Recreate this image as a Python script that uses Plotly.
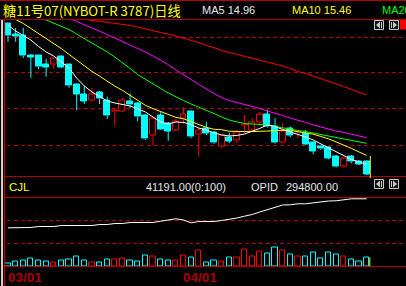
import plotly.graph_objects as go

W, H = 406, 286

# ---------------- data ----------------
title_text = "糖11号07(NYBOT-R 3787)日线"
opens = [22.99, 22.38, 22.32, 21.18, 21.15, 20.65, 20.65, 21.09, 20.62, 19.52,
         18.96, 18.62, 19.06, 18.62, 17.94, 17.99, 18.56, 18.43, 17.72, 16.59,
         17.72, 17.29, 16.91, 17.54, 17.95, 16.66, 17.01, 16.74, 15.96, 16.47,
         16.30, 17.14, 16.91, 17.33, 17.77, 17.10, 16.19, 17.01, 16.74, 16.72,
         16.19, 15.96, 15.90, 15.39, 14.82, 15.39, 15.14, 15.10]
highs = [22.99, 22.72, 22.74, 21.24, 21.18, 20.96, 21.09, 21.16, 20.67, 19.57,
         19.42, 19.32, 19.13, 18.81, 18.11, 18.73, 19.00, 18.51, 17.82, 17.67,
         17.92, 17.37, 17.54, 18.20, 18.02, 17.06, 17.38, 16.85, 16.62, 16.76,
         16.91, 17.77, 17.58, 17.95, 18.05, 17.58, 17.29, 17.10, 16.91, 16.91,
         16.25, 16.03, 15.97, 15.49, 15.31, 15.49, 15.20, 15.17]
lows = [21.94, 21.94, 21.01, 19.89, 20.37, 19.95, 20.39, 20.44, 19.32, 18.05,
        18.39, 18.56, 18.39, 17.54, 17.16, 17.95, 18.16, 17.42, 16.34, 16.02,
        16.91, 16.30, 16.85, 17.25, 16.44, 15.39, 16.62, 16.11, 15.91, 16.15,
        16.15, 16.72, 16.85, 17.20, 17.05, 16.14, 16.14, 16.51, 16.44, 16.05,
        15.53, 15.77, 15.23, 14.77, 14.77, 15.01, 14.92, 14.35]
closes = [22.29, 22.23, 21.15, 21.05, 20.52, 20.48, 20.96, 20.48, 19.42, 18.96,
          18.56, 18.96, 18.68, 17.72, 18.05, 18.62, 18.34, 17.67, 16.40, 17.54,
          16.95, 16.85, 17.42, 17.81, 16.53, 16.91, 16.72, 16.17, 16.57, 16.28,
          16.78, 17.20, 17.33, 17.77, 17.10, 16.19, 16.85, 16.59, 16.85, 16.09,
          15.71, 15.83, 15.30, 14.82, 15.26, 15.10, 14.97, 14.40]
ma5 = [22.90, 22.55, 22.30, 22.04, 21.67, 21.36, 21.13, 20.79, 20.44, 19.87,
       19.42, 19.08, 18.82, 18.56, 18.45, 18.36, 18.28, 18.11, 17.94, 17.65,
       17.37, 17.25, 17.37, 17.34, 17.22, 17.02, 16.91, 16.74, 16.63, 16.57,
       16.60, 16.68, 16.82, 17.00, 17.20, 17.11, 16.94, 16.80, 16.68, 16.51,
       16.34, 16.11, 15.88, 15.66, 15.43, 15.23, 15.09, 14.96]
ma10 = [23.45, 23.22, 22.98, 22.70, 22.42, 22.13, 21.84, 21.55, 21.22, 20.88,
        20.55, 20.25, 19.98, 19.67, 19.41, 19.17, 18.87, 18.59, 18.32, 18.13,
        17.97, 17.78, 17.63, 17.55, 17.39, 17.22, 17.06, 16.95, 16.93, 16.84,
        16.81, 16.82, 16.82, 16.82, 16.85, 16.88, 16.91, 16.91, 16.81, 16.74,
        16.67, 16.54, 16.41, 16.23, 16.06, 15.86, 15.66, 15.46]
ma20 = [23.98, 23.81, 23.66, 23.52, 23.35, 23.18, 23.01, 22.84, 22.64, 22.38,
        22.13, 21.87, 21.61, 21.36, 21.07, 20.76, 20.42, 20.07, 19.79, 19.53,
        19.28, 19.02, 18.79, 18.59, 18.39, 18.22, 18.05, 17.85, 17.65, 17.48,
        17.37, 17.28, 17.25, 17.22, 17.20, 17.11, 17.02, 16.94, 16.88, 16.82,
        16.74, 16.65, 16.57, 16.48, 16.40, 16.31, 16.23, 16.15]
ma30 = [24.89, 24.72, 24.55, 24.38, 24.15, 23.92, 23.69, 23.49, 23.29, 23.09,
        22.90, 22.72, 22.55, 22.35, 22.18, 21.95, 21.76, 21.56, 21.36, 21.13,
        20.90, 20.64, 20.33, 20.05, 19.76, 19.48, 19.25, 18.99, 18.76, 18.59,
        18.48, 18.39, 18.28, 18.14, 17.99, 17.88, 17.74, 17.59, 17.48, 17.34,
        17.20, 17.08, 16.97, 16.85, 16.77, 16.65, 16.57, 16.47]
ma60 = [23.86, 23.81, 23.75, 23.69, 23.64, 23.58, 23.52, 23.47, 23.41, 23.35,
        23.24, 23.15, 23.11, 23.05, 23.01, 22.94, 22.87, 22.78, 22.67, 22.55,
        22.47, 22.38, 22.27, 22.15, 22.04, 21.90, 21.73, 21.61, 21.44, 21.33,
        21.21, 21.10, 21.01, 20.90, 20.81, 20.70, 20.56, 20.42, 20.24, 20.13,
        19.99, 19.85, 19.70, 19.53, 19.39, 19.22, 19.05, 18.91]
volume = [13700, 22900, 27500, 36600, 27500, 22900, 18300, 27500, 32000, 45800,
          27500, 18300, 18300, 32000, 32000, 36600, 27500, 22900, 50300, 45800,
          32000, 27500, 27500, 50300, 41200, 73200, 18300, 27500, 22900, 41200,
          41200, 77800, 45800, 68700, 59500, 87000, 73200, 54900, 45800, 45800,
          64100, 36600, 64100, 54900, 45800, 32000, 22900, 41191]
opid = [265800, 265800, 265800, 266100, 267100, 267100, 267100, 268100, 268100, 268100,
        268100, 268100, 269100, 269100, 270100, 270100, 271100, 271100, 271100, 271100,
        272400, 273800, 274800, 273600, 270800, 272100, 272100, 272100, 273100, 274100,
        275600, 277400, 279100, 281600, 284100, 286800, 288600, 288800, 289800, 289800,
        290800, 291800, 292600, 292800, 293800, 294800, 294800, 294800]
date_labels = ["03/01", "04/01"]
date_index = [0, 23]
price_grid = [22.21, 20.16, 18.11, 16.00]

# ---------------- styling ----------------
BG = "#000000"
FRAME = "#B40000"
UPC = "#FF0000"
DNC = "#00FFFF"
DASH = "4px,3px"
ASCII_FONT = "Liberation Sans, Arial, sans-serif"
CJK_FONT = "Noto Sans CJK SC, sans-serif"

n = len(closes)
xs = list(range(n))


def px(x):
    return x / W


def py(y):
    return 1 - y / H


up = [i for i in xs if closes[i] >= opens[i]]
dn = [i for i in xs if closes[i] < opens[i]]

fig = go.Figure()


def wick_trace(ix, color):
    wx, wy = [], []
    for i in ix:
        top = max(opens[i], closes[i])
        bot = min(opens[i], closes[i])
        wx += [i, i, None, i, i, None]
        wy += [highs[i], top, None, bot, lows[i], None]
    return go.Scatter(x=wx, y=wy, mode="lines", line=dict(color=color, width=1),
                      hoverinfo="skip", yaxis="y", connectgaps=False)


def body_trace(ix, fill, color):
    base = [min(opens[i], closes[i]) for i in ix]
    h = [max(abs(closes[i] - opens[i]), 0.03) for i in ix]
    return go.Bar(x=ix, y=h, base=base, width=0.78, yaxis="y",
                  marker=dict(color=fill, line=dict(color=color, width=1)))


fig.add_trace(body_trace(dn, DNC, DNC))
fig.add_trace(body_trace(up, BG, UPC))
fig.add_trace(wick_trace(dn, DNC))
fig.add_trace(wick_trace(up, UPC))

for series, col in [(ma60, "#FF0000"), (ma30, "#FF00FF"), (ma20, "#00FF00"),
                    (ma10, "#FFFF00"), (ma5, "#FFFFFF")]:
    fig.add_trace(go.Scatter(x=xs, y=series, mode="lines", yaxis="y",
                             line=dict(color=col, width=1)))

# volume (hollow bars)
for ix, col in [(dn, DNC), (up, UPC)]:
    fig.add_trace(go.Bar(x=ix, y=[volume[i] for i in ix], width=0.68, yaxis="y2",
                         marker=dict(color=BG, line=dict(color=col, width=1))))

# open interest line
fig.add_trace(go.Scatter(x=xs, y=opid, mode="lines", yaxis="y3",
                         line=dict(color="#FFFFFF", width=1)))

vol_top = 316000
shapes = []


def hline(y, x0, x1, color=FRAME):
    shapes.append(dict(type="line", xref="paper", yref="paper",
                       x0=px(x0), x1=px(x1), y0=py(y), y1=py(y),
                       line=dict(color=color, width=1)))


hline(0.5, 0, W)
hline(19.5, 0, W)
hline(176.5, 4, W)
hline(197.5, 4, W)
hline(266.5, 4, W)
# left strip + border
shapes.append(dict(type="rect", xref="paper", yref="paper", x0=px(0), x1=px(4),
                   y0=py(20), y1=py(H), line=dict(width=0), fillcolor=BG))
shapes.append(dict(type="rect", xref="paper", yref="paper", x0=px(1), x1=px(3),
                   y0=py(20), y1=py(H), line=dict(width=0), fillcolor="#D4D0C8"))
shapes.append(dict(type="line", xref="paper", yref="paper", x0=px(4.5), x1=px(4.5),
                   y0=py(20), y1=py(H), line=dict(color=FRAME, width=1.3)))

# cursor (last bar)
shapes.append(dict(type="line", xref="x", yref="paper", x0=n - 1 + 0.48, x1=n - 1 + 0.48,
                   y0=py(156), y1=py(178), line=dict(color="#FFFF00", width=1)))
shapes.append(dict(type="line", xref="x", yref="y2", x0=n - 1 + 0.42, x1=n - 1 + 0.42,
                   y0=0, y1=volume[-1], line=dict(color="#FFFF00", width=1)))


def icon(x0, y0, direction):
    shapes.append(dict(type="rect", xref="paper", yref="paper",
                       x0=px(x0 + 0.5), x1=px(x0 + 9.5), y0=py(y0 + 0.5), y1=py(y0 + 9.5),
                       line=dict(color="#C8C8C8", width=1), fillcolor="#101010"))
    if direction == "left":
        path = (f"M {px(x0 + 2)},{py(y0 + 5)} L {px(x0 + 6)},{py(y0 + 1.5)} "
                f"L {px(x0 + 6)},{py(y0 + 8.5)} Z")
        bx = x0 + 7
    else:
        path = (f"M {px(x0 + 8)},{py(y0 + 5)} L {px(x0 + 4)},{py(y0 + 1.5)} "
                f"L {px(x0 + 4)},{py(y0 + 8.5)} Z")
        bx = x0 + 2
    shapes.append(dict(type="path", xref="paper", yref="paper", path=path,
                       fillcolor="#C8C8C8", line=dict(width=0)))
    shapes.append(dict(type="rect", xref="paper", yref="paper",
                       x0=px(bx), x1=px(bx + 1), y0=py(y0 + 2), y1=py(y0 + 8),
                       fillcolor="#C8C8C8", line=dict(width=0)))


icon(374, 20, "left")
icon(389, 20, "right")
shapes.append(dict(type="rect", xref="paper", yref="paper", x0=px(400), x1=px(407),
                   y0=py(20), y1=py(29.5), fillcolor="#FF0000", line=dict(width=0)))
icon(374, 179, "left")
icon(389, 179, "right")

ann = []


def text(x, y, s, color, size, family=ASCII_FONT, weight="normal", xref="paper"):
    ann.append(dict(x=x if xref != "paper" else px(x), y=py(y), xref=xref, yref="paper",
                    text=s, showarrow=False, xanchor="left", yanchor="middle",
                    borderpad=0, borderwidth=0,
                    font=dict(color=color, size=size, family=family, weight=weight)))


text(3, 10, title_text, "#FFFF00", 13.2, family=CJK_FONT)
text(201.5, 10, f"MA5 {ma5[-1]:.2f}", "#E8E8E8", 11)
text(292, 10, f"MA10 {ma10[-1]:.2f}", "#FFFF00", 11)
text(382, 10, f"MA20 {ma20[-1]:.2f}", "#00FF00", 11)
text(9, 187, "CJL", "#FFFF00", 11.5)
text(146, 187, f"{volume[-1]:.2f}(0:100)", "#E8E8E8", 11)
text(250.5, 187, "OPID", "#E8E8E8", 11)
text(286, 187, f"{opid[-1]:.2f}", "#E8E8E8", 11)
for lab, idx in zip(date_labels, date_index):
    text(idx, 277, lab, "#A80000", 13.5, weight="bold", xref="x")

grid_common = dict(showticklabels=False, ticks="", showline=False, zeroline=False,
                   showgrid=True, gridcolor=FRAME, gridwidth=1, griddash=DASH,
                   fixedrange=True)

fig.update_layout(
    width=W, height=H, autosize=False,
    margin=dict(l=0, r=0, t=0, b=0, pad=0),
    paper_bgcolor=BG, plot_bgcolor=BG,
    showlegend=False, barmode="overlay", bargap=0,
    xaxis=dict(range=[-1.0485, 52.162], domain=[0, 1], visible=False, fixedrange=True),
    yaxis=dict(domain=[py(177), py(19.5)], range=[14.23, 23.24 - 0.03],
               tickvals=price_grid, **grid_common),
    yaxis2=dict(domain=[py(266.5), py(197.5)], range=[0, vol_top], anchor="x",
                tickvals=[vol_top / 3, 2 * vol_top / 3], **grid_common),
    yaxis3=dict(overlaying="y2", range=[227100, 296100], visible=False,
                showgrid=False, fixedrange=True),
    shapes=shapes,
    annotations=ann,
)

fig.write_html("out.html")
